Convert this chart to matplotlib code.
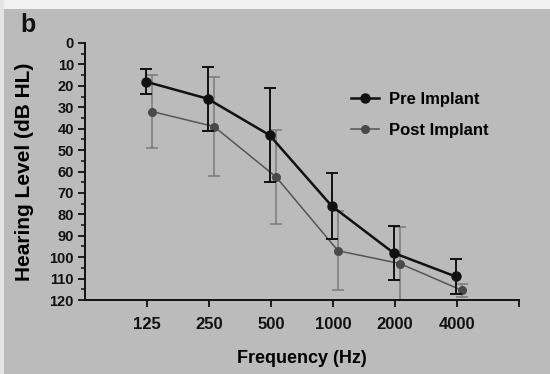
import matplotlib
matplotlib.use("Agg")
import matplotlib.pyplot as plt
from matplotlib.lines import Line2D
from matplotlib.patches import Rectangle
from matplotlib.ticker import FixedLocator, MultipleLocator, NullFormatter

plt.rcParams["font.family"] = ["Liberation Sans", "DejaVu Sans"]
plt.rcParams["font.weight"] = "bold"

freqs = [125, 250, 500, 1000, 2000, 4000]
freq_labels = ["125", "250", "500", "1000", "2000", "4000"]

pre_mean = [18, 26, 43, 76, 98, 109]
pre_err = [6, 15, 22, 15.5, 12.5, 8]

post_mean = [32, 39, 62.5, 97, 103, 115.5]
post_err = [17, 23, 22, 18.5, 17, 3]

BG = "#bbbbbb"
PRE_C = "#111111"
POST_C = "#555555"

fig = plt.figure(figsize=(5.5, 3.74), dpi=100, facecolor=BG)
# light strips along the top and left edge of the scan
fig.patches.append(Rectangle((0, 1 - 9 / 374), 1, 9 / 374, transform=fig.transFigure,
                             facecolor="#f2f2f2", edgecolor="none", zorder=0))
fig.patches.append(Rectangle((0, 0), 4 / 550, 1, transform=fig.transFigure,
                             facecolor="#e4e4e4", edgecolor="none", zorder=0))

ax = fig.add_axes([85 / 550, 1 - 300 / 374, (519 - 85) / 550, (300 - 43) / 374])
ax.set_facecolor(BG)

# small horizontal shift so the two series do not overlap completely
pre_x = [f * 2 ** (-1.5 / 62) for f in freqs]
post_x = [f * 2 ** (5 / 62) for f in freqs]

ax.errorbar(post_x, post_mean, yerr=post_err, color=POST_C, ecolor="#7a7a7a",
            lw=1.1, elinewidth=1.1, capsize=4, capthick=1.1, marker="o",
            markersize=5.5, mfc="#4a4a4a", mec="#4a4a4a", zorder=2)
ax.errorbar(pre_x, pre_mean, yerr=pre_err, color=PRE_C, ecolor=PRE_C,
            lw=1.8, elinewidth=1.4, capsize=4, capthick=1.4, marker="o",
            markersize=6.5, mfc=PRE_C, mec=PRE_C, zorder=3)

ax.set_xscale("log", base=2)
ax.set_xlim(62.5, 8000)
ax.xaxis.set_major_locator(FixedLocator(freqs + [8000]))
ax.set_xticklabels(freq_labels + [""])
ax.xaxis.set_minor_formatter(NullFormatter())
ax.xaxis.set_minor_locator(FixedLocator([]))

ax.set_ylim(120, 0)
ax.yaxis.set_major_locator(MultipleLocator(10))
ax.yaxis.set_minor_locator(MultipleLocator(5))

for s in ["top", "right"]:
    ax.spines[s].set_visible(False)
for s in ["left", "bottom"]:
    ax.spines[s].set_linewidth(1.4)
    ax.spines[s].set_color(PRE_C)

ax.tick_params(axis="x", which="major", length=5, width=1.3, labelsize=12, pad=7, colors=PRE_C)
ax.tick_params(axis="y", which="major", length=5, width=1.3, labelsize=10.5, pad=3, colors=PRE_C)
ax.tick_params(axis="y", which="minor", length=3, width=1.1, colors=PRE_C)

ax.set_xlabel("Frequency (Hz)", fontsize=13, fontweight="bold", labelpad=13)
ax.set_ylabel("Hearing Level (dB HL)", fontsize=15, fontweight="bold", labelpad=11)

handles = [
    Line2D([], [], color=PRE_C, lw=1.8, marker="o", markersize=6.5),
    Line2D([], [], color=POST_C, lw=1.1, marker="o", markersize=5.5, mfc="#4a4a4a", mec="#4a4a4a"),
]
ax.legend(handles, ["Pre Implant", "Post Implant"], loc="upper left",
          bbox_to_anchor=(0.613, 0.81), borderaxespad=0, borderpad=0,
          frameon=False, prop={"size": 12, "weight": "bold"}, handlelength=1.7,
          handletextpad=0.55, labelspacing=0.95)

fig.text(20 / 550, 1 - 32 / 374, "b", fontsize=18, fontweight="bold", color=PRE_C)

fig.savefig("out.png", dpi=100, facecolor=BG)
